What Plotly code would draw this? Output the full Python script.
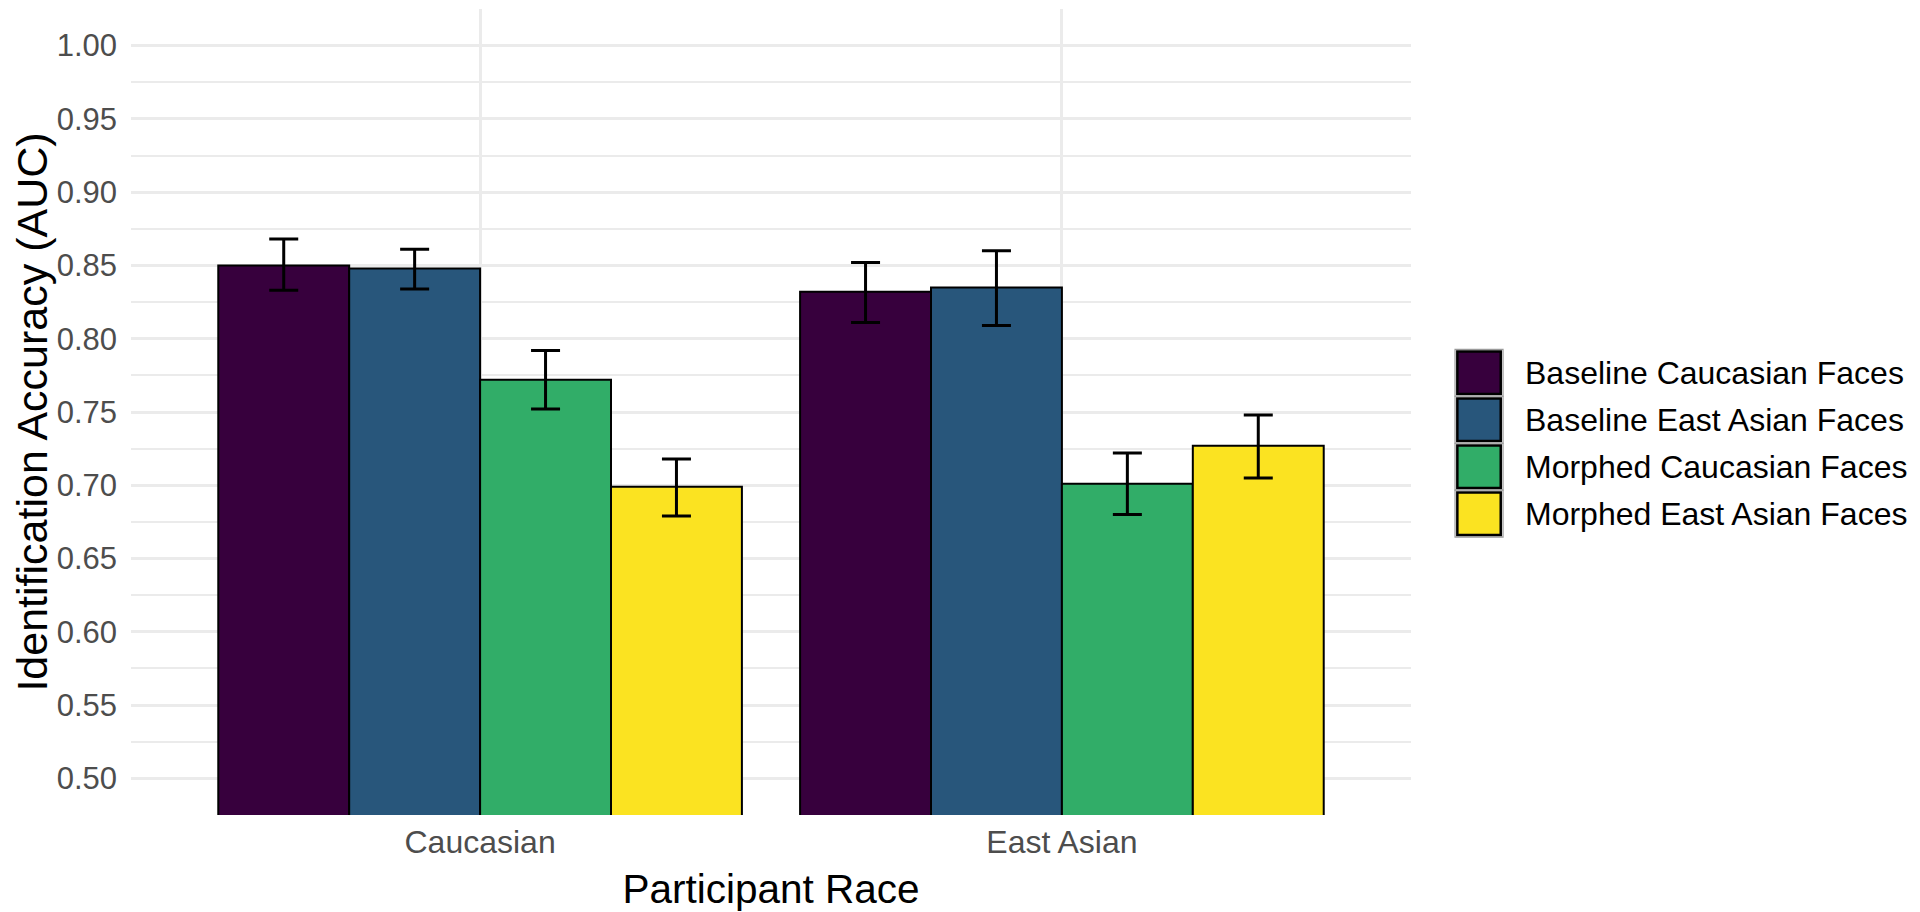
import plotly.graph_objects as go

# ---- data ----
participant_race = ["Caucasian", "East Asian"]
conditions = ["Baseline Caucasian Faces", "Baseline East Asian Faces",
              "Morphed Caucasian Faces", "Morphed East Asian Faces"]
auc_mean = {
    "Baseline Caucasian Faces": [0.850, 0.832],
    "Baseline East Asian Faces": [0.848, 0.835],
    "Morphed Caucasian Faces": [0.772, 0.701],
    "Morphed East Asian Faces": [0.699, 0.727],
}
auc_upper = {
    "Baseline Caucasian Faces": [0.868, 0.852],
    "Baseline East Asian Faces": [0.861, 0.860],
    "Morphed Caucasian Faces": [0.792, 0.722],
    "Morphed East Asian Faces": [0.718, 0.748],
}
auc_lower = {
    "Baseline Caucasian Faces": [0.833, 0.811],
    "Baseline East Asian Faces": [0.834, 0.809],
    "Morphed Caucasian Faces": [0.752, 0.680],
    "Morphed East Asian Faces": [0.679, 0.705],
}
y_ticks = [0.50, 0.55, 0.60, 0.65, 0.70, 0.75, 0.80, 0.85, 0.90, 0.95, 1.00]
colors = ["#37003d", "#28567b", "#31ad68", "#fbe321"]

FONT = "Liberation Sans, Arial, Helvetica, sans-serif"

fig = go.Figure()
for cond, col in zip(conditions, colors):
    m = auc_mean[cond]
    up = [u - v for u, v in zip(auc_upper[cond], m)]
    lo = [v - l for v, l in zip(m, auc_lower[cond])]
    fig.add_trace(go.Bar(
        x=participant_race, y=m, name=cond,
        marker=dict(color=col, line=dict(color="black", width=2)),
        error_y=dict(type="data", symmetric=False, array=up, arrayminus=lo,
                     color="black", thickness=3, width=14.5),
        showlegend=False,
    ))

# custom legend (large ggplot-style keys)
row_h = 0.05828
cell_top = 0.5778
for i, (cond, col) in enumerate(zip(conditions, colors)):
    c1 = cell_top - i * row_h
    c0 = c1 - row_h
    fig.add_shape(type="rect", xref="paper", yref="paper",
                  x0=1.0344, x1=1.0719, y0=c0, y1=c1,
                  fillcolor="white", line=dict(color="#9a9a9a", width=1.2))
    fig.add_shape(type="rect", xref="paper", yref="paper",
                  x0=1.0344 + 0.0018, x1=1.0719 - 0.0018, y0=c0 + 0.0028, y1=c1 - 0.0028,
                  fillcolor=col, line=dict(color="black", width=2.5))
    fig.add_annotation(xref="paper", yref="paper", x=1.0875, y=(c0 + c1) / 2,
                       text=cond, showarrow=False, xanchor="left", yanchor="middle",
                       font=dict(family=FONT, size=32, color="black"))

fig.update_layout(
    width=1904, height=904,
    margin=dict(l=123, r=501, t=1, b=96.5),
    paper_bgcolor="white", plot_bgcolor="white",
    barmode="group", bargap=0.1, bargroupgap=0,
    font=dict(family=FONT),
    xaxis=dict(
        type="category", range=[-0.6, 1.6],
        showgrid=True, gridcolor="#EBEBEB", gridwidth=3,
        showline=False, zeroline=False, ticks="",
        ticklabelstandoff=5,
        tickfont=dict(size=32, color="#4D4D4D", family=FONT),
        title=dict(text="Participant Race", font=dict(size=40.5, color="black", family=FONT), standoff=18),
    ),
    yaxis=dict(
        range=[0.475, 1.025],
        tickvals=y_ticks, ticktext=[f"{v:.2f}" for v in y_ticks],
        showgrid=True, gridcolor="#EBEBEB", gridwidth=3,
        minor=dict(dtick=0.05, tick0=0.475, showgrid=True, gridcolor="#EBEBEB", gridwidth=1.5),
        showline=False, zeroline=False, ticks="",
        ticklabelstandoff=13,
        tickfont=dict(size=31, color="#4D4D4D", family=FONT),
        title=dict(text="Identification Accuracy (AUC)", font=dict(size=43, color="black", family=FONT), standoff=9),
    ),
)

fig.write_html("out.html")
